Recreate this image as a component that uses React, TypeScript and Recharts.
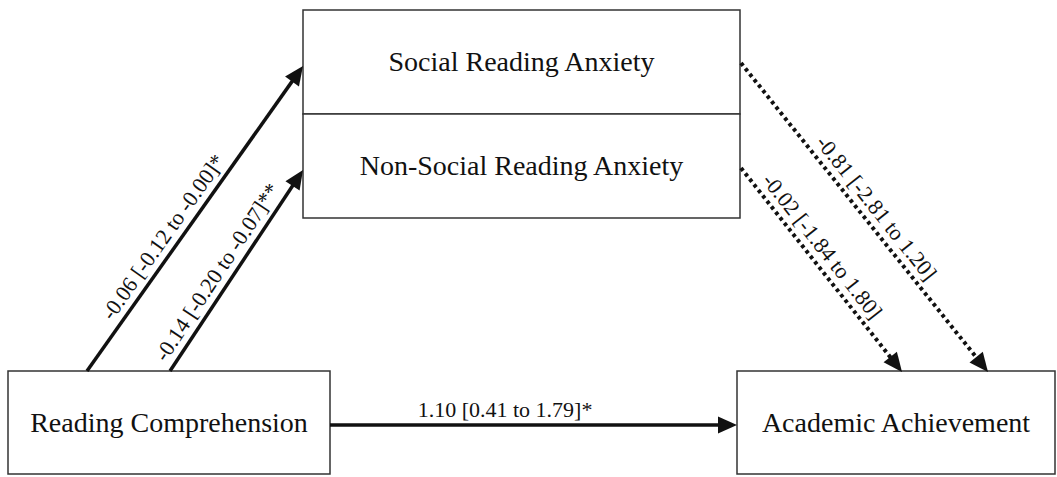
import {
  ComposedChart,
  ReferenceArea,
  ReferenceLine,
  Scatter,
  XAxis,
  YAxis,
} from 'recharts';

// node names, in the order of the layout boxes below
const nodeNames = [
  'Reading Comprehension',
  'Social Reading Anxiety',
  'Non-Social Reading Anxiety',
  'Academic Achievement',
];

// path estimates with 95% CI, shown on each arrow
const pathLabels = [
  '-0.06 [-0.12 to -0.00]*',
  '-0.14 [-0.20 to -0.07]**',
  '-0.81 [-2.81 to 1.20]',
  '-0.02 [-1.84 to 1.80]',
  '1.10 [0.41 to 1.79]*',
];
const pathSignificant = [true, true, false, false, true];

// layout (chart units = pixels of the original figure)
const W = 1057;
const H = 477;
const boxes = [
  { x1: 8, x2: 330, y1: 371, y2: 474 },
  { x1: 303, x2: 740, y1: 10, y2: 114 },
  { x1: 303, x2: 740, y1: 114, y2: 218 },
  { x1: 737, x2: 1055, y1: 371, y2: 474 },
];
const paths = [
  { from: [87, 371], to: [303, 66], at: 0.41 },
  { from: [170, 371], to: [303, 170], at: 0.45 },
  { from: [741, 63], to: [988, 372], at: 0.5 },
  { from: [741, 168], to: [902, 372], at: 0.43 },
  { from: [330, 425], to: [737, 425], at: 0.43 },
];

const FONT = '"Liberation Serif", "Times New Roman", serif';
const INK = '#111';

const nodeCenters = boxes.map((b, i) => ({
  x: (b.x1 + b.x2) / 2,
  y: (b.y1 + b.y2) / 2,
  name: nodeNames[i],
}));

function NodeText(props: any) {
  const { cx, cy, payload } = props;
  return (
    <text
      x={cx}
      y={cy}
      dy={9}
      textAnchor="middle"
      fontFamily={FONT}
      fontSize={28}
      fill={INK}
    >
      {payload.name}
    </text>
  );
}

function arrowShape(label: string, solid: boolean, at: number) {
  return (props: any) => {
    const { x1, y1, x2, y2 } = props;
    const dx = x2 - x1;
    const dy = y2 - y1;
    const len = Math.sqrt(dx * dx + dy * dy);
    const ux = dx / len;
    const uy = dy / len;
    const headLen = 19;
    const headHalf = 8.5;
    const bx = x2 - ux * headLen;
    const by = y2 - uy * headLen;
    const px = -uy;
    const py = ux;
    const head = `${x2},${y2} ${bx + px * headHalf},${by + py * headHalf} ${bx - px * headHalf},${by - py * headHalf}`;
    const angle = (Math.atan2(dy, dx) * 180) / Math.PI;
    const mx = x1 + dx * at;
    const my = y1 + dy * at;
    return (
      <g>
        <line
          x1={x1}
          y1={y1}
          x2={bx + ux * 2}
          y2={by + uy * 2}
          stroke={INK}
          strokeWidth={solid ? 3.5 : 4}
          strokeDasharray={solid ? undefined : '3.5 3.5'}
        />
        <polygon points={head} fill={INK} />
        <text
          x={mx}
          y={my}
          dy={-8}
          textAnchor="middle"
          fontFamily={FONT}
          fontSize={22}
          fill={INK}
          transform={`rotate(${angle} ${mx} ${my})`}
        >
          {label}
        </text>
      </g>
    );
  };
}

export default function App() {
  return (
    <div style={{ position: 'absolute', left: 0, top: 0, background: '#fff' }}>
      <ComposedChart
        width={W}
        height={H}
        margin={{ top: 0, right: 0, bottom: 0, left: 0 }}
        data={nodeCenters}
      >
        <XAxis type="number" dataKey="x" domain={[0, W]} hide allowDataOverflow />
        <YAxis type="number" dataKey="y" domain={[0, H]} reversed hide allowDataOverflow width={0} />
        {boxes.map((b, i) => (
          <ReferenceArea
            key={`box-${i}`}
            x1={b.x1}
            x2={b.x2}
            y1={b.y1}
            y2={b.y2}
            fill="#fff"
            fillOpacity={1}
            stroke="#333"
            strokeWidth={1.5}
            ifOverflow="visible"
          />
        ))}
        {paths.map((p, i) => (
          <ReferenceLine
            key={`path-${i}`}
            segment={[
              { x: p.from[0], y: p.from[1] },
              { x: p.to[0], y: p.to[1] },
            ]}
            ifOverflow="visible"
            shape={arrowShape(pathLabels[i], pathSignificant[i], p.at)}
          />
        ))}
        <Scatter
          data={nodeCenters}
          dataKey="y"
          shape={NodeText}
          isAnimationActive={false}
        />
      </ComposedChart>
    </div>
  );
}
